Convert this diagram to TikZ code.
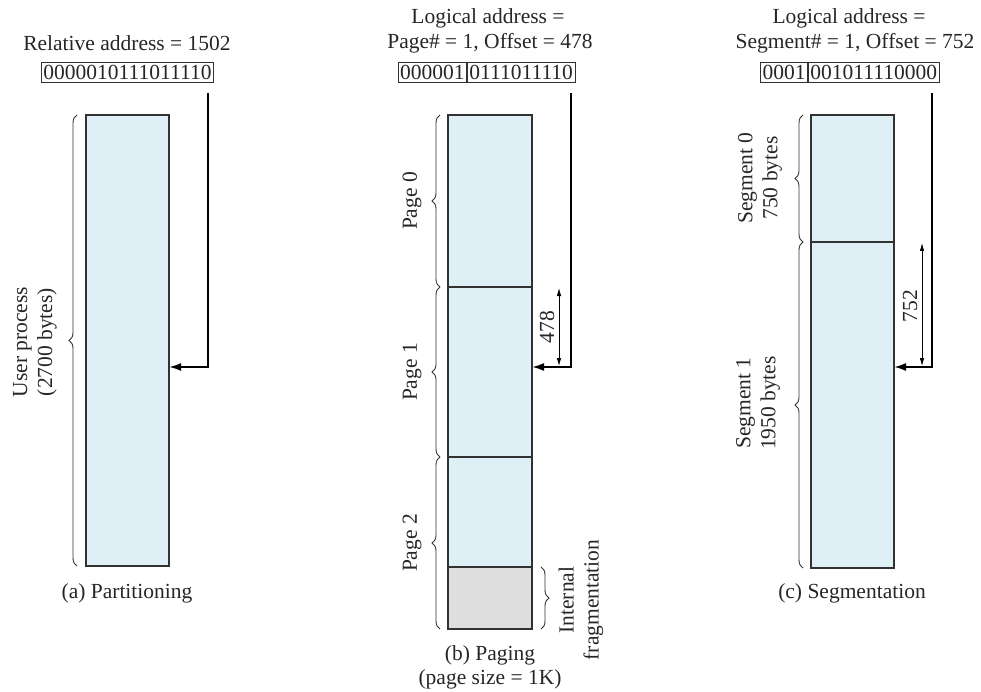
\documentclass[tikz,border=0pt]{standalone}
\usepackage{fontspec}
\setmainfont{Liberation Serif}
\usetikzlibrary{arrows.meta,decorations.pathreplacing}
\definecolor{memblue}{RGB}{222,240,246}
\definecolor{memgray}{RGB}{222,222,222}
\definecolor{edgecol}{RGB}{50,50,50}
\begin{document}
\begin{tikzpicture}[x=1pt,y=-1pt,
  txt/.style={font=\fontsize{21.5}{25}\selectfont, inner sep=0pt, align=center, text=black!85},
  addr/.style={draw=edgecol, line width=0.9pt, inner xsep=2pt, inner ysep=2.5pt,
    text height=15pt, text depth=0pt, font=\fontsize{21.5}{25}\selectfont, text=black!85},
  mem/.style={draw=edgecol, line width=1.1pt, fill=memblue},
  frag/.style={draw=edgecol, line width=1.1pt, fill=memgray},
  ptr/.style={line width=2pt, line join=miter, -{Latex[length=12pt,width=8pt]}},
  dimline/.style={line width=0.8pt, {Latex[length=8pt,width=4.5pt]}-{Latex[length=8pt,width=4.5pt]}},
  brc/.style={draw=edgecol, line width=0.9pt, decorate, decoration={brace, amplitude=8pt}}]
\useasboundingbox (0,0) rectangle (981,692);

% ---------- (a) Partitioning ----------
\node[txt] (ta) at (127,43) {Relative address = 1502};
\node[addr] (ba) at (127.5,72) {0000010111011110};
\draw[mem] (86,115) rectangle (169,566);
\coordinate (sa) at (208,93);
\coordinate (ea) at (169,367);
\draw[ptr] (sa) |- (ea);
\draw[brc] (77,566) -- (77,115);
\node[txt, rotate=90] (la) at (35,342) {User process\\(2700 bytes)};
\node[txt] (ca) at (127,593) {(a) Partitioning};

% ---------- (b) Paging ----------
\node[txt] (tb1) at (488,18) {Logical address =};
\node[txt] (tb2) at (490,43) {Page\# = 1, Offset = 478};
\node[addr, anchor=east] (bb1) at (467,72) {000001};
\node[addr, anchor=west] (bb2) at (467,72) {0111011110};
\draw[mem] (448,115) rectangle (532,287);
\draw[mem] (448,287) rectangle (532,457);
\draw[mem] (448,457) rectangle (532,567);
\draw[frag] (448,567) rectangle (532,629);
\coordinate (sb) at (571,93);
\coordinate (eb) at (532,367);
\draw[ptr] (sb) |- (eb);
\coordinate (db1) at (559,288);
\coordinate (db2) at (559,366);
\draw[dimline] (db1) -- (db2);
\node[txt, rotate=90] (nb) at (547,327) {478};
\draw[brc] (440,287) -- (440,115);
\draw[brc] (440,457) -- (440,287);
\draw[brc] (440,629) -- (440,457);
\node[txt, rotate=90] (p0) at (412,201) {Page 0};
\node[txt, rotate=90] (p1) at (412,372) {Page 1};
\node[txt, rotate=90] (p2) at (412,543) {Page 2};
\draw[brc] (541,567) -- (541,629);
\node[txt, rotate=90] (ifr) at (581,600) {Internal\\fragmentation};
\node[txt] (cb1) at (490,655) {(b) Paging};
\node[txt] (cb2) at (490,679) {(page size = 1K)};

% ---------- (c) Segmentation ----------
\node[txt] (tc1) at (849,18) {Logical address =};
\node[txt] (tc2) at (855,43) {Segment\# = 1, Offset = 752};
\node[addr, anchor=east] (bc1) at (808,72) {0001};
\node[addr, anchor=west] (bc2) at (808,72) {001011110000};
\draw[mem] (811,115) rectangle (894,242);
\draw[mem] (811,242) rectangle (894,568);
\coordinate (sc) at (932,93);
\coordinate (ec) at (894,367);
\draw[ptr] (sc) |- (ec);
\coordinate (dc1) at (922,243);
\coordinate (dc2) at (922,366);
\draw[dimline] (dc1) -- (dc2);
\node[txt, rotate=90] (nc) at (910,306) {752};
\draw[brc] (803,242) -- (803,115);
\draw[brc] (803,568) -- (803,242);
\node[txt, rotate=90] (s0) at (760,178) {Segment 0\\750 bytes};
\node[txt, rotate=90] (s1) at (758,403) {Segment 1\\1950 bytes};
\node[txt] (cc) at (852,593) {(c) Segmentation};
\end{tikzpicture}
\end{document}
